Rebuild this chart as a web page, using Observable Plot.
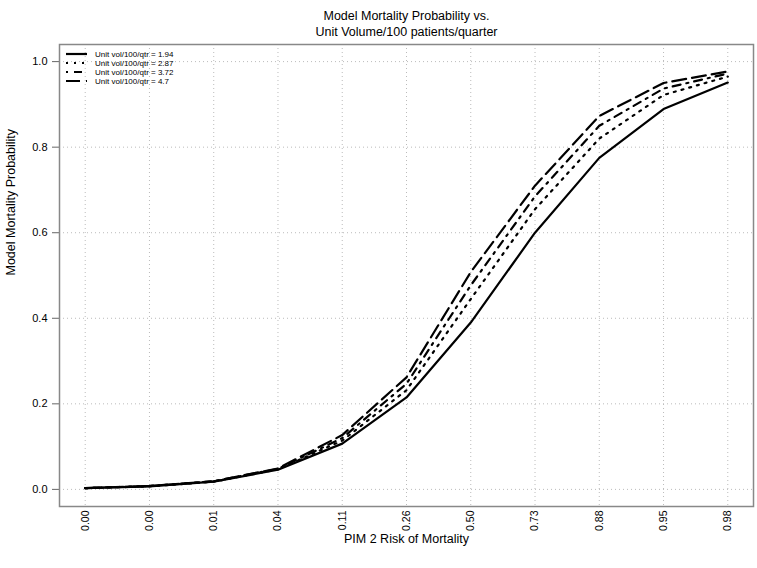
<!DOCTYPE html>
<html>
<head>
<meta charset="utf-8">
<script src="https://cdn.jsdelivr.net/npm/d3@7"></script>
<script src="https://cdn.jsdelivr.net/npm/@observablehq/plot@0.6"></script>
<style>
  html, body { margin: 0; padding: 0; background: white; }
  #chart { position: relative; width: 757px; height: 568px; }
</style>
</head>
<body>
<div id="chart"></div>
<script>
// ---- data ----
const xLabels = ["0.00", "0.00", "0.01", "0.04", "0.11", "0.26", "0.50", "0.73", "0.88", "0.95", "0.98"];
const seriesNames = ["Unit vol/100/qtr = 1.94", "Unit vol/100/qtr = 2.87", "Unit vol/100/qtr = 3.72", "Unit vol/100/qtr = 4.7"];
const vol194 = [0.003, 0.007, 0.018, 0.046, 0.107, 0.215, 0.390, 0.600, 0.775, 0.889, 0.951];
const vol287 = [0.003, 0.007, 0.018, 0.047, 0.114, 0.232, 0.445, 0.655, 0.820, 0.922, 0.965];
const vol372 = [0.003, 0.008, 0.019, 0.048, 0.120, 0.247, 0.477, 0.685, 0.850, 0.937, 0.972];
const vol470 = [0.003, 0.008, 0.019, 0.049, 0.127, 0.262, 0.508, 0.710, 0.873, 0.950, 0.977];
const yTicks = [0, 0.2, 0.4, 0.6, 0.8, 1.0];
const titleLines = ["Model Mortality Probability vs.", "Unit Volume/100 patients/quarter"];
const xTitle = "PIM 2 Risk of Mortality";
const yTitle = "Model Mortality Probability";

// ---- styles ----
const dashes = [null, "2,6", "2,6,8,6", "14,6"];
const allSeries = [vol194, vol287, vol372, vol470];
const xIdx = xLabels.map((_, i) => i + 1);
const FONT = "'Liberation Sans Narrow', 'Liberation Sans', Arial, sans-serif";

const lineMarks = allSeries.map((vals, s) =>
  Plot.line(vals.map((v, i) => ({x: i + 1, y: v})), {
    x: "x", y: "y", stroke: "black", strokeWidth: 2.2,
    strokeDasharray: dashes[s] ?? undefined, strokeLinejoin: "round"
  })
);

const chart = Plot.plot({
  width: 757,
  height: 568,
  marginTop: 44,
  marginBottom: 62,
  marginLeft: 59,
  marginRight: 4,
  style: {fontFamily: FONT, fontSize: "11px", background: "white", color: "black"},
  x: {domain: [0.6, 11.4], label: null},
  y: {domain: [-0.04, 1.04], label: null},
  marks: [
    Plot.gridX(xIdx, {stroke: "#bbb", strokeOpacity: 1, strokeDasharray: "1,3"}),
    Plot.gridY(yTicks, {stroke: "#bbb", strokeOpacity: 1, strokeDasharray: "1,3"}),
    Plot.axisY(yTicks, {tickSize: 7, tickPadding: 5, tickFormat: d3.format(".1f"), stroke: "#666", label: null, fontSize: 11}),
    Plot.axisX(xIdx, {tickSize: 0, tickPadding: 4, tickRotate: -90, tickFormat: i => xLabels[i - 1], label: null, fontSize: 10.5}),
    ...lineMarks,
    Plot.frame({stroke: "#888", strokeWidth: 1.5}),
    Plot.text([titleLines[0]], {frameAnchor: "top", dy: -33, fontSize: 12.5, text: d => d}),
    Plot.text([titleLines[1]], {frameAnchor: "top", dy: -17, fontSize: 12.5, text: d => d}),
    Plot.text([xTitle], {frameAnchor: "bottom", dy: 36, fontSize: 12.5, text: d => d}),
    Plot.text([yTitle], {frameAnchor: "left", dx: -49, rotate: -90, fontSize: 12.5, text: d => d})
  ]
});

document.getElementById("chart").appendChild(chart);

// ---- legend (inside plot, top-left) ----
const svg = d3.select(chart);
const lg = svg.append("g")
  .attr("font-family", FONT).attr("font-size", 8)
  .attr("text-anchor", "start");
seriesNames.forEach((name, s) => {
  const y = 54 + s * 9;
  lg.append("line")
    .attr("x1", 66).attr("x2", 87).attr("y1", y).attr("y2", y)
    .attr("stroke", "black").attr("stroke-width", 2.2)
    .attr("stroke-dasharray", dashes[s] || null);
  lg.append("text")
    .attr("x", 95).attr("y", y).attr("dy", "0.35em")
    .attr("text-anchor", "start")
    .text(name);
});
</script>
</body>
</html>
